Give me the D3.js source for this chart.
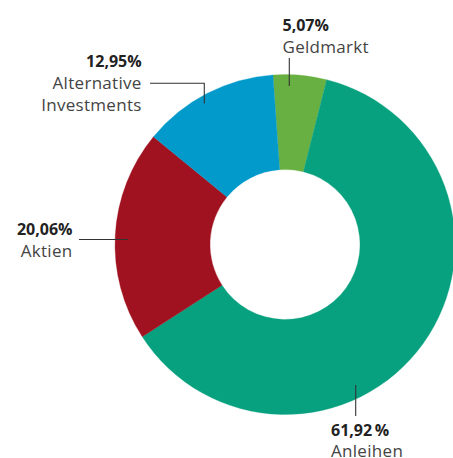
<!DOCTYPE html>
<html>
<head>
<meta charset="utf-8">
<script src="https://cdn.jsdelivr.net/npm/d3@7"></script>
<style>
  html, body { margin: 0; padding: 0; background: #fff; }
  svg { display: block; }
  .pct { font-family: "Open Sans", sans-serif; font-weight: 700; font-size: 16px; fill: #222; }
  .name { font-family: "Open Sans", sans-serif; font-weight: 400; font-size: 17px; fill: #444; letter-spacing: 0.3px; }
</style>
</head>
<body>
<svg id="chart" width="453" height="458"></svg>
<script>
// Asset allocation shares (percent), in drawing order clockwise from the top
const categories = ["Geldmarkt", "Anleihen", "Aktien", "Alternative Investments"];
const shares = [5.07, 61.92, 20.06, 12.95];
const shareLabels = ["5,07%", "61,92\u2009%", "20,06%", "12,95%"];
const nameLines = [["Geldmarkt"], ["Anleihen"], ["Aktien"], ["Alternative", "Investments"]];
const colors = ["#69b042", "#08a17f", "#a11220", "#0299cb"];

const W = 453, H = 458;
const cx = 285, cy = 244.5;
const outerR = 170, innerR = 75;

const svg = d3.select("#chart");
const g = svg.append("g").attr("transform", `translate(${cx},${cy})`);

const start = -4.07 * Math.PI / 180;
const pie = d3.pie().sort(null).value(d => d.v)
  .startAngle(start).endAngle(start + 2 * Math.PI);
const arc = d3.arc().innerRadius(innerR).outerRadius(outerR);

const data = categories.map((c, i) => ({ c, v: shares[i], color: colors[i], i }));
const arcs = pie(data);

g.selectAll("path.slice")
  .data(arcs)
  .join("path")
  .attr("class", "slice")
  .attr("d", arc)
  .attr("fill", d => d.data.color)
  .attr("stroke", d => d.data.color)
  .attr("stroke-width", 0.3);

// Label placement: first-line baseline, line height and leader polyline (px)
const layout = {
  "Geldmarkt":  { x: 282.5, y: 31, anchor: "start", lh: 22,
                  leader: [[289.3, 58], [289.3, 86]] },
  "Anleihen":   { x: 331, y: 435.5, anchor: "start", lh: 21.5,
                  leader: [[355.7, 385], [355.7, 416]] },
  "Aktien":     { x: 72.5, y: 234.5, anchor: "end", lh: 22,
                  leader: [[79, 239.5], [128, 239.5]] },
  "Alternative Investments": { x: 141.7, y: 67, anchor: "end", lh: 22,
                  leader: [[150, 83.3], [204.3, 83.3], [204.3, 103.5]] }
};

const line = d3.line();
data.forEach(d => {
  const L = layout[d.c];
  svg.append("path")
    .attr("d", line(L.leader))
    .attr("fill", "none")
    .attr("stroke", "#333")
    .attr("stroke-width", 1.1);

  const t = svg.append("text")
    .attr("text-anchor", L.anchor);
  t.append("tspan").attr("class", "pct")
    .attr("x", L.x).attr("y", L.y)
    .text(shareLabels[d.i]);
  nameLines[d.i].forEach((s, k) => {
    t.append("tspan").attr("class", "name")
      .attr("x", L.x).attr("y", L.y + L.lh * (k + 1))
      .text(s);
  });
});
</script>
</body>
</html>
